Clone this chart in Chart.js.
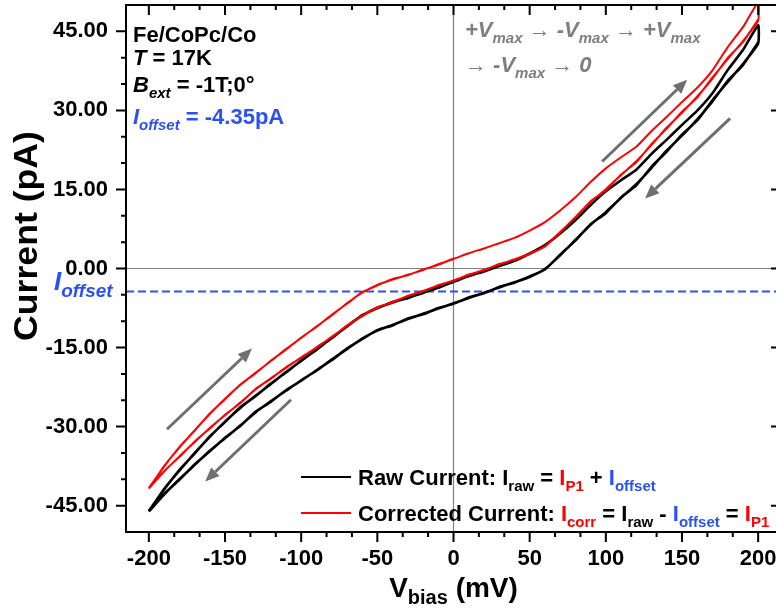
<!DOCTYPE html>
<html><head><meta charset="utf-8">
<script src="https://cdn.jsdelivr.net/npm/chart.js@4.4.1/dist/chart.umd.min.js"></script>
<style>html,body{margin:0;padding:0;overflow:hidden;background:#fff;width:776px;height:608px}canvas{display:block}</style>
</head><body>
<canvas id="c" width="790" height="608" style="width:790px;height:608px"></canvas>
<script>
const FF = '"Liberation Sans", Arial, Helvetica, sans-serif';
const BLUE = '#2b50f5', RED = '#ff0000', GRAY = '#7f7f7f';

// ---- tick labels ----
const xTickValues = [-200, -150, -100, -50, 0, 50, 100, 150, 200];
const yTickValues = [-45, -30, -15, 0, 15, 30, 45];
const iOffset = -4.35;

// ---- bias sweeps (mV) ----
const vDown = [200,190,180,170,160,150,140,130,120,110,100,90,80,70,60,50,40,30,20,10,0,-10,-20,-30,-40,-50,-60,-70,-80,-90,-100,-110,-120,-130,-140,-150,-160,-170,-180,-190,-200];
const vUp = [-200,-190,-180,-170,-160,-150,-140,-130,-120,-110,-100,-90,-80,-70,-60,-50,-40,-30,-20,-10,0,10,20,30,40,50,60,70,80,90,100,110,120,130,140,150,160,170,180,190,200];
const vUpHalf = [-200,-190,-180,-170,-160,-150,-140,-130,-120,-110,-100,-90,-80,-70,-60,-50,-40,-30,-20,-10,0];

// ---- raw current (pA) ----
const rawDown1 = [42.9,38.6,35.6,31.7,28.3,25.2,22.4,19.1,16.0,13.4,10.7,8.3,5.4,2.5,-0.1,-1.6,-2.6,-3.6,-4.6,-5.6,-6.6,-7.6,-8.6,-9.6,-10.7,-11.8,-13.3,-15.3,-17.3,-19.4,-21.2,-23.2,-25.2,-27.3,-29.8,-32.2,-34.6,-37.3,-40.0,-42.9,-46.1];
const rawUp1 = [-46.1,-41.85,-38.35,-35.05,-31.95,-29.05,-26.45,-24.15,-21.95,-19.65,-17.55,-15.35,-13.25,-10.95,-8.95,-7.45,-6.45,-5.55,-4.65,-3.55,-2.55,-1.45,-0.55,0.45,1.45,2.85,4.45,6.65,9.15,12.05,14.65,16.75,18.75,21.75,24.45,27.25,29.95,33.25,37.65,41.45,46.15];
const rawDown2 = [42.7,38.8,35.4,31.9,28.1,25.4,22.2,19.3,15.8,13.5,10.5,8.4,5.3,2.6,-0.2,-1.5,-2.7,-3.5,-4.7,-5.5,-6.7,-7.5,-8.7,-9.5,-10.8,-11.7,-13.4,-15.2,-17.4,-19.3,-21.3,-23.1,-25.3,-27.2,-29.9,-32.1,-34.7,-37.2,-40.1,-42.8,-46.0];
const rawUp2 = [-46.0,-41.95,-38.25,-35.15,-31.85,-29.15,-26.35,-24.25,-21.85,-19.75,-17.45,-15.45,-13.15,-11.05,-8.85,-7.55,-6.35,-5.65,-4.55,-3.65,-2.45];

// ---- corrected current (pA) ----
const corrDown1 = [47.25,42.95,39.95,36.05,32.65,29.55,26.75,23.45,20.35,17.75,15.05,12.65,9.75,6.85,4.25,2.75,1.75,0.75,-0.25,-1.25,-2.25,-3.25,-4.25,-5.25,-6.35,-7.45,-8.95,-10.95,-12.95,-15.05,-16.85,-18.85,-20.85,-22.95,-25.45,-27.85,-30.25,-32.95,-35.65,-38.55,-41.75];
const corrUp1 = [-41.75,-37.5,-34.0,-30.7,-27.6,-24.7,-22.1,-19.8,-17.6,-15.3,-13.2,-11.0,-8.9,-6.6,-4.6,-3.1,-2.1,-1.2,-0.3,0.8,1.8,2.9,3.8,4.8,5.8,7.2,8.8,11.0,13.5,16.4,19.0,21.1,23.1,26.1,28.8,31.6,34.3,37.6,42.0,45.8,50.5];
const corrDown2 = [47.05,43.15,39.75,36.25,32.45,29.75,26.55,23.65,20.15,17.85,14.85,12.75,9.65,6.95,4.15,2.85,1.65,0.85,-0.35,-1.15,-2.35,-3.15,-4.35,-5.15,-6.45,-7.35,-9.05,-10.85,-13.05,-14.95,-16.95,-18.75,-20.95,-22.85,-25.55,-27.75,-30.35,-32.85,-35.75,-38.45,-41.65];
const corrUp2 = [-41.65,-37.6,-33.9,-30.8,-27.5,-24.8,-22.0,-19.9,-17.5,-15.4,-13.1,-11.1,-8.8,-6.7,-4.5,-3.2,-2.0,-1.3,-0.2,0.7,1.9];

// ---- sweep-direction arrows (data coords: [x1,y1,x2,y2]) ----
const arrowList = [
  [97.6, 20.3, 153.4, 35.8],
  [181.6, 28.5, 125.8, 13.3],
  [-188.1, -30.5, -132.3, -15.2],
  [-106.7, -24.9, -163.0, -40.4]
];

function sweep(vs, is) { return vs.map((v, k) => ({ x: v, y: is[k] })); }
const rawPath = [...sweep(vDown, rawDown1), ...sweep(vUp, rawUp1), ...sweep(vDown, rawDown2), ...sweep(vUpHalf, rawUp2)];
const corrPath = [...sweep(vDown, corrDown1), ...sweep(vUp, corrUp1), ...sweep(vDown, corrDown2), ...sweep(vUpHalf, corrUp2)];

function setFont(ctx, p) { ctx.font = (p.i ? 'italic ' : '') + (p.n ? 'normal ' : 'bold ') + p.s + 'px ' + FF; }
function rich(ctx, x, y, parts) {
  let cx = x;
  for (const p of parts) {
    setFont(ctx, p);
    ctx.fillStyle = p.c || '#000';
    ctx.fillText(p.t, cx, y + (p.dy || 0));
    cx += ctx.measureText(p.t).width;
  }
  return cx - x;
}
function richWidth(ctx, parts) {
  let w = 0;
  for (const p of parts) { setFont(ctx, p); w += ctx.measureText(p.t).width; }
  return w;
}

const deco = {
  id: 'deco',
  beforeDatasetsDraw(chart) {
    const { ctx, chartArea: ca, scales: { x, y } } = chart;
    ctx.save();
    ctx.strokeStyle = '#808080'; ctx.lineWidth = 1.2;
    const x0 = x.getPixelForValue(0), y0 = y.getPixelForValue(0);
    ctx.beginPath(); ctx.moveTo(x0, ca.top); ctx.lineTo(x0, ca.bottom); ctx.stroke();
    ctx.beginPath(); ctx.moveTo(ca.left, y0); ctx.lineTo(ca.right, y0); ctx.stroke();
    const yo = y.getPixelForValue(iOffset);
    ctx.strokeStyle = BLUE; ctx.lineWidth = 2; ctx.setLineDash([8, 4]);
    ctx.beginPath(); ctx.moveTo(ca.left, yo); ctx.lineTo(ca.right, yo); ctx.stroke();
    ctx.restore();
  },
  afterDatasetsDraw(chart) {
    const { ctx, chartArea: ca, scales: { x, y } } = chart;
    ctx.save();
    ctx.strokeStyle = '#000'; ctx.lineWidth = 2; ctx.setLineDash([]);
    ctx.strokeRect(ca.left, ca.top, ca.right - ca.left, ca.bottom - ca.top);
    const xMaj = xTickValues, yMaj = yTickValues;
    const xMin = [], yMin = [];
    for (let k = 0; k < xMaj.length - 1; k++) { const d = (xMaj[k + 1] - xMaj[k]) / 3; xMin.push(xMaj[k] + d, xMaj[k] + 2 * d); }
    for (let k = 0; k < yMaj.length - 1; k++) { const d = (yMaj[k + 1] - yMaj[k]) / 3; yMin.push(yMaj[k] + d, yMaj[k] + 2 * d); }
    ctx.beginPath();
    const tk = (list, len) => {
      for (const v of list) {
        const px = x.getPixelForValue(v);
        if (px <= ca.left + 1 || px >= ca.right - 1) continue;
        ctx.moveTo(px, ca.bottom); ctx.lineTo(px, ca.bottom + len);
        ctx.moveTo(px, ca.top); ctx.lineTo(px, ca.top + len);
      }
    };
    const tky = (list, len) => {
      for (const v of list) {
        const py = y.getPixelForValue(v);
        if (py <= ca.top + 1 || py >= ca.bottom - 1) continue;
        ctx.moveTo(ca.left, py); ctx.lineTo(ca.left - len, py);
        ctx.moveTo(ca.right, py); ctx.lineTo(ca.right - len, py);
      }
    };
    tk(xMaj, 10); tk(xMin, 5); tky(yMaj, 10); tky(yMin, 5);
    ctx.stroke();

    ctx.strokeStyle = '#6f6f6f'; ctx.fillStyle = '#6f6f6f'; ctx.lineWidth = 3;
    for (const a of arrowList) {
      const x1 = x.getPixelForValue(a[0]), y1 = y.getPixelForValue(a[1]);
      const x2 = x.getPixelForValue(a[2]), y2 = y.getPixelForValue(a[3]);
      const ang = Math.atan2(y2 - y1, x2 - x1), hl = 14, hw = 6;
      const bx = x2 - hl * Math.cos(ang), by = y2 - hl * Math.sin(ang);
      ctx.beginPath(); ctx.moveTo(x1, y1); ctx.lineTo(bx, by); ctx.stroke();
      ctx.beginPath(); ctx.moveTo(x2, y2);
      ctx.lineTo(bx + hw * Math.sin(ang), by - hw * Math.cos(ang));
      ctx.lineTo(bx - hw * Math.sin(ang), by + hw * Math.cos(ang));
      ctx.closePath(); ctx.fill();
    }

    ctx.textBaseline = 'alphabetic'; ctx.textAlign = 'left';
    const tx = ca.left + 7;
    rich(ctx, tx, 42, [{ t: 'Fe/CoPc/Co', s: 22 }]);
    rich(ctx, tx, 65, [{ t: 'T', s: 22, i: 1 }, { t: ' = 17K', s: 22 }]);
    rich(ctx, tx, 92, [{ t: 'B', s: 22, i: 1 }, { t: 'ext', s: 15, i: 1, dy: 6 }, { t: ' = -1T;0°', s: 22 }]);
    rich(ctx, tx, 124, [{ t: 'I', s: 22, i: 1, c: BLUE }, { t: 'offset', s: 15, i: 1, dy: 6, c: BLUE }, { t: ' = -4.35pA', s: 22, c: BLUE }]);

    const sx = 465;
    rich(ctx, sx, 37, [
      { t: '+V', s: 22, i: 1, c: GRAY }, { t: 'max', s: 15, i: 1, dy: 6, c: GRAY },
      { t: ' \u2192 ', s: 22, n: 1, c: GRAY },
      { t: '-V', s: 22, i: 1, c: GRAY }, { t: 'max', s: 15, i: 1, dy: 6, c: GRAY },
      { t: ' \u2192 ', s: 22, n: 1, c: GRAY },
      { t: '+V', s: 22, i: 1, c: GRAY }, { t: 'max', s: 15, i: 1, dy: 6, c: GRAY }
    ]);
    rich(ctx, sx, 72, [
      { t: '\u2192 ', s: 22, n: 1, c: GRAY },
      { t: '-V', s: 22, i: 1, c: GRAY }, { t: 'max', s: 15, i: 1, dy: 6, c: GRAY },
      { t: ' \u2192 ', s: 22, n: 1, c: GRAY },
      { t: '0', s: 22, i: 1, c: GRAY }
    ]);

    ctx.lineWidth = 2;
    ctx.strokeStyle = '#000'; ctx.beginPath(); ctx.moveTo(301, 477); ctx.lineTo(351, 477); ctx.stroke();
    ctx.strokeStyle = RED; ctx.beginPath(); ctx.moveTo(301, 513); ctx.lineTo(351, 513); ctx.stroke();
    rich(ctx, 358, 485, [
      { t: 'Raw Current: I', s: 22 }, { t: 'raw', s: 15, dy: 6 }, { t: ' = ', s: 22 },
      { t: 'I', s: 22, c: RED }, { t: 'P1', s: 15, dy: 6, c: RED }, { t: ' + ', s: 22 },
      { t: 'I', s: 22, c: BLUE }, { t: 'offset', s: 15, dy: 6, c: BLUE }
    ]);
    rich(ctx, 358, 521, [
      { t: 'Corrected Current: ', s: 22 }, { t: 'I', s: 22, c: RED }, { t: 'corr', s: 15, dy: 6, c: RED },
      { t: ' = I', s: 22 }, { t: 'raw', s: 15, dy: 6 }, { t: ' - ', s: 22 },
      { t: 'I', s: 22, c: BLUE }, { t: 'offset', s: 15, dy: 6, c: BLUE }, { t: ' = ', s: 22 },
      { t: 'I', s: 22, c: RED }, { t: 'P1', s: 15, dy: 6, c: RED }
    ]);

    rich(ctx, 54, 290, [{ t: 'I', s: 26, i: 1, c: BLUE }, { t: 'offset', s: 19, i: 1, dy: 7, c: BLUE }]);

    const xt = [{ t: 'V', s: 28 }, { t: 'bias', s: 20, dy: 7 }, { t: ' (mV)', s: 28 }];
    const xw = richWidth(ctx, xt);
    rich(ctx, (ca.left + ca.right) / 2 - xw / 2, 597, xt);
    ctx.translate(37, 236); ctx.rotate(-Math.PI / 2); ctx.scale(1.08, 1);
    ctx.textAlign = 'center'; ctx.fillStyle = '#000';
    ctx.font = 'bold 33px ' + FF;
    ctx.fillText('Current (pA)', 0, 0);
    ctx.restore();
  }
};

new Chart(document.getElementById('c'), {
  type: 'scatter',
  data: {
    datasets: [
      { label: 'Raw Current', data: rawPath, showLine: true, borderColor: '#000', backgroundColor: '#000', borderWidth: 2.6, pointRadius: 0, tension: 0.15, order: 2 },
      { label: 'Corrected Current', data: corrPath, showLine: true, borderColor: RED, backgroundColor: RED, borderWidth: 2, pointRadius: 0, tension: 0.15, order: 1 }
    ]
  },
  options: {
    responsive: false, animation: false, devicePixelRatio: 1,
    layout: { padding: { top: 5, right: 9, left: 0, bottom: 0 } },
    plugins: { legend: { display: false }, tooltip: { enabled: false } },
    scales: {
      x: {
        type: 'linear', min: -215, max: 215,
        afterBuildTicks: s => { s.ticks = xTickValues.map(v => ({ value: v })); },
        afterFit: s => { s.height = 76; s.paddingLeft = 0; s.paddingRight = 0; },
        grid: { display: false, drawTicks: false }, border: { display: false },
        ticks: { padding: 14, color: '#000', font: { family: FF, size: 22, weight: 'bold' }, maxRotation: 0, autoSkip: false, callback: v => String(v) }
      },
      y: {
        type: 'linear', min: -50, max: 50,
        afterBuildTicks: s => { s.ticks = yTickValues.map(v => ({ value: v })); },
        afterFit: s => { s.width = 126; s.paddingTop = 0; s.paddingBottom = 0; },
        grid: { display: false, drawTicks: false }, border: { display: false },
        ticks: { padding: 18, color: '#000', font: { family: FF, size: 22, weight: 'bold' }, autoSkip: false, callback: v => Number(v).toFixed(2) }
      }
    }
  },
  plugins: [deco]
});
</script>
</body></html>
